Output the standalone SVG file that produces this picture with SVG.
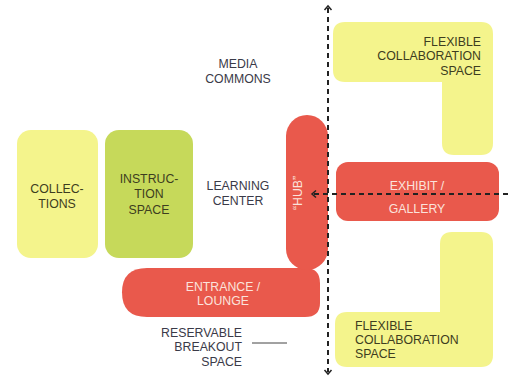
<svg xmlns="http://www.w3.org/2000/svg" width="508" height="381" viewBox="0 0 508 381">
<defs>
<style>
.lbl{font-family:"Liberation Sans",Arial,sans-serif;font-size:12.3px;fill:#3a3a48;text-anchor:middle}
.wl{font-family:"Liberation Sans",Arial,sans-serif;font-size:12.3px;fill:#fbe3dc;text-anchor:middle}
.dk{font-family:"Liberation Sans",Arial,sans-serif;font-size:12.3px;fill:#3d3d20;text-anchor:middle}
.red{fill:#e9594c}
.yel{fill:#f4f48c}
.grn{fill:#c6d95a}
.dash{stroke:#222;stroke-width:2;stroke-dasharray:5 4;fill:none}
.head{stroke:#222;stroke-width:1.5;fill:none}
</style>
</defs>
<rect width="508" height="381" fill="#fff"/>
<g id="collections">
<rect class="yel" x="17" y="130" width="81" height="128" rx="14"/>
<text class="dk" x="57" y="193">COLLEC-</text>
<text class="dk" x="57" y="208">TIONS</text>
</g>
<g id="instruction">
<rect class="grn" x="105" y="130" width="88" height="128" rx="14"/>
<text class="dk" x="149" y="183">INSTRUC-</text>
<text class="dk" x="149" y="198">TION</text>
<text class="dk" x="149" y="214">SPACE</text>
</g>
<g id="media-commons">
<text class="lbl" x="238" y="68">MEDIA</text>
<text class="lbl" x="238" y="83">COMMONS</text>
</g>
<g id="learning-center">
<text class="lbl" x="238" y="190">LEARNING</text>
<text class="lbl" x="238" y="205">CENTER</text>
</g>
<g id="entrance">
<path class="red" d="M147 268 L305 268 Q320 268 320 283 L320 303 Q320 317 305 317 L147 317 Q122 317 122 292.5 Q122 268 147 268 Z"/>
<text class="wl" x="223" y="291">ENTRANCE /</text>
<text class="wl" x="223" y="305">LOUNGE</text>
</g>
<g id="breakout">
<text class="lbl" x="242" y="337" style="text-anchor:end">RESERVABLE</text>
<text class="lbl" x="242" y="351" style="text-anchor:end">BREAKOUT</text>
<text class="lbl" x="242" y="366" style="text-anchor:end">SPACE</text>
<line x1="252" y1="343" x2="287" y2="343" stroke="#444" stroke-width="1"/>
</g>
<g id="hub">
<rect class="red" x="286" y="115" width="42" height="155" rx="21"/>
<text class="wl" transform="translate(302 193) rotate(-90)">“HUB”</text>
</g>
<g id="exhibit">
<rect class="red" x="336" y="162" width="163" height="59" rx="12"/>
<text class="wl" x="417" y="189.5">EXHIBIT /</text>
<text class="wl" x="417" y="212.5">GALLERY</text>
</g>
<g id="flex-top">
<path class="yel" d="M345 22 L481 22 Q493 22 493 34 L493 143 Q493 155 481 155 L454 155 Q442 155 442 143 L442 82 L345 82 Q333 82 333 70 L333 34 Q333 22 345 22 Z"/>
<text class="dk" x="481" y="46" style="text-anchor:end">FLEXIBLE</text>
<text class="dk" x="481" y="60" style="text-anchor:end">COLLABORATION</text>
<text class="dk" x="481" y="75" style="text-anchor:end">SPACE</text>
</g>
<g id="flex-bottom">
<path class="yel" d="M452 232 L481 232 Q493 232 493 244 L493 355 Q493 367 481 367 L347 367 Q335 367 335 355 L335 324 Q335 312 347 312 L440 312 L440 244 Q440 232 452 232 Z"/>
<text class="dk" x="355" y="330" style="text-anchor:start">FLEXIBLE</text>
<text class="dk" x="355" y="344" style="text-anchor:start">COLLABORATION</text>
<text class="dk" x="355" y="358" style="text-anchor:start">SPACE</text>
</g>
<g id="connectors">
<line class="dash" x1="328" y1="8" x2="328" y2="372"/>
<path class="head" d="M324.5 10 L328 6 L331.5 10"/>
<path class="head" d="M324.5 370 L328 374 L331.5 370"/>
<line class="dash" x1="508" y1="194" x2="314" y2="194"/>
<path class="head" d="M316 190.5 L312 194 L316 197.5"/>
</g>
</svg>
